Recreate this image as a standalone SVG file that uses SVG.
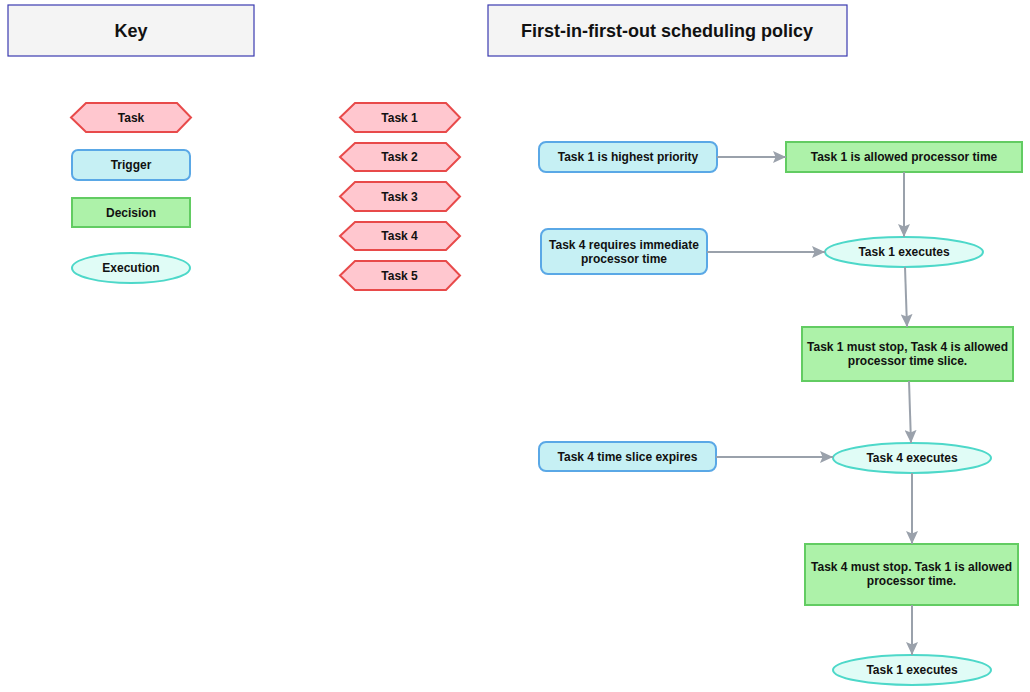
<svg xmlns="http://www.w3.org/2000/svg" width="1030" height="692" viewBox="0 0 1030 692">
<defs>
<style>
text{font-family:"Liberation Sans",Arial,sans-serif;font-weight:bold;font-size:12px;fill:#111;text-anchor:middle;dominant-baseline:central}
.title{fill:#f4f4f4;stroke:#3a3ab0;stroke-width:1.2}
.title-t{font-size:18px}
.task{fill:#ffc7cf;stroke:#e84a4a;stroke-width:2}
.trig{fill:#c6f0f4;stroke:#5aa8e6;stroke-width:2}
.dec{fill:#adf2a9;stroke:#62cc62;stroke-width:2}
.exe{fill:#e0fcf6;stroke:#4dd8c9;stroke-width:2}
.edge{stroke:#9aa1ab;stroke-width:2;fill:none;marker-end:url(#arr)}
</style>
<marker id="arr" viewBox="0 0 10 10" refX="10" refY="5" markerWidth="13" markerHeight="12" markerUnits="userSpaceOnUse" orient="auto" preserveAspectRatio="none"><path d="M0,0 L10,5 L0,10 L2,5 z" fill="#9aa1ab"/></marker>
</defs>
<rect width="1030" height="692" fill="#fff"/>
<g id="key-title"><rect class="title" x="8" y="5" width="246" height="51"/><text class="title-t" x="131" y="31">Key</text></g>
<g id="main-title"><rect class="title" x="488" y="5" width="359" height="51"/><text class="title-t" x="667" y="31">First-in-first-out scheduling policy</text></g>

<g id="key-task"><polygon class="task" points="71,117.5 86,103 177,103 191,117.5 177,132 86,132"/><text x="131" y="117.5">Task</text></g>
<g id="key-trigger"><rect class="trig" x="72" y="150" width="118" height="30" rx="6"/><text x="131" y="165">Trigger</text></g>
<g id="key-decision"><rect class="dec" x="72" y="198" width="118" height="29"/><text x="131" y="212.5">Decision</text></g>
<g id="key-execution"><ellipse class="exe" cx="131" cy="268" rx="59" ry="15"/><text x="131" y="268">Execution</text></g>

<g id="task1"><polygon class="task" points="340,117.5 355,103 446,103 460,117.5 446,132 355,132"/><text x="399.5" y="117.5">Task 1</text></g>
<g id="task2"><polygon class="task" points="340,157 355,143 446,143 460,157 446,171 355,171"/><text x="399.5" y="157">Task 2</text></g>
<g id="task3"><polygon class="task" points="340,196.5 355,182 446,182 460,196.5 446,211 355,211"/><text x="399.5" y="196.5">Task 3</text></g>
<g id="task4"><polygon class="task" points="340,236 355,222 446,222 460,236 446,250 355,250"/><text x="399.5" y="236">Task 4</text></g>
<g id="task5"><polygon class="task" points="340,275.5 355,261 446,261 460,275.5 446,290 355,290"/><text x="399.5" y="275.5">Task 5</text></g>

<g id="trig1"><rect class="trig" x="539" y="142" width="178" height="30" rx="7"/><text x="628" y="157">Task 1 is highest priority</text></g>
<g id="dec1"><rect class="dec" x="786" y="142" width="236" height="30"/><text x="904" y="157">Task 1 is allowed processor time</text></g>
<g id="trig2"><rect class="trig" x="541" y="229" width="166" height="45" rx="7"/><text x="624" y="245">Task 4 requires immediate</text><text x="624" y="259">processor time</text></g>
<g id="exe1"><ellipse class="exe" cx="904" cy="252" rx="79" ry="15"/><text x="904" y="252">Task 1 executes</text></g>
<g id="dec2"><rect class="dec" x="802" y="327" width="211" height="54"/><text x="907.5" y="347">Task 1 must stop, Task 4 is allowed</text><text x="907.5" y="361">processor time slice.</text></g>
<g id="trig3"><rect class="trig" x="539" y="442" width="177" height="29" rx="7"/><text x="627.5" y="456.5">Task 4 time slice expires</text></g>
<g id="exe2"><ellipse class="exe" cx="912" cy="458" rx="79" ry="15"/><text x="912" y="458">Task 4 executes</text></g>
<g id="dec3"><rect class="dec" x="805" y="544" width="213" height="61"/><text x="911.5" y="567">Task 4 must stop. Task 1 is allowed</text><text x="911.5" y="581">processor time.</text></g>
<g id="exe3"><ellipse class="exe" cx="912" cy="670" rx="79" ry="15"/><text x="912" y="670">Task 1 executes</text></g>

<g id="connectors">
<line class="edge" x1="717" y1="157" x2="786" y2="157"/>
<line class="edge" x1="904" y1="172" x2="904" y2="237"/>
<line class="edge" x1="707" y1="252" x2="825" y2="252"/>
<line class="edge" x1="905" y1="267" x2="907" y2="327"/>
<line class="edge" x1="909" y1="381" x2="911" y2="443"/>
<line class="edge" x1="716" y1="457" x2="833" y2="457"/>
<line class="edge" x1="912" y1="473" x2="912" y2="544"/>
<line class="edge" x1="912" y1="605" x2="912" y2="655"/>
</g>
</svg>
